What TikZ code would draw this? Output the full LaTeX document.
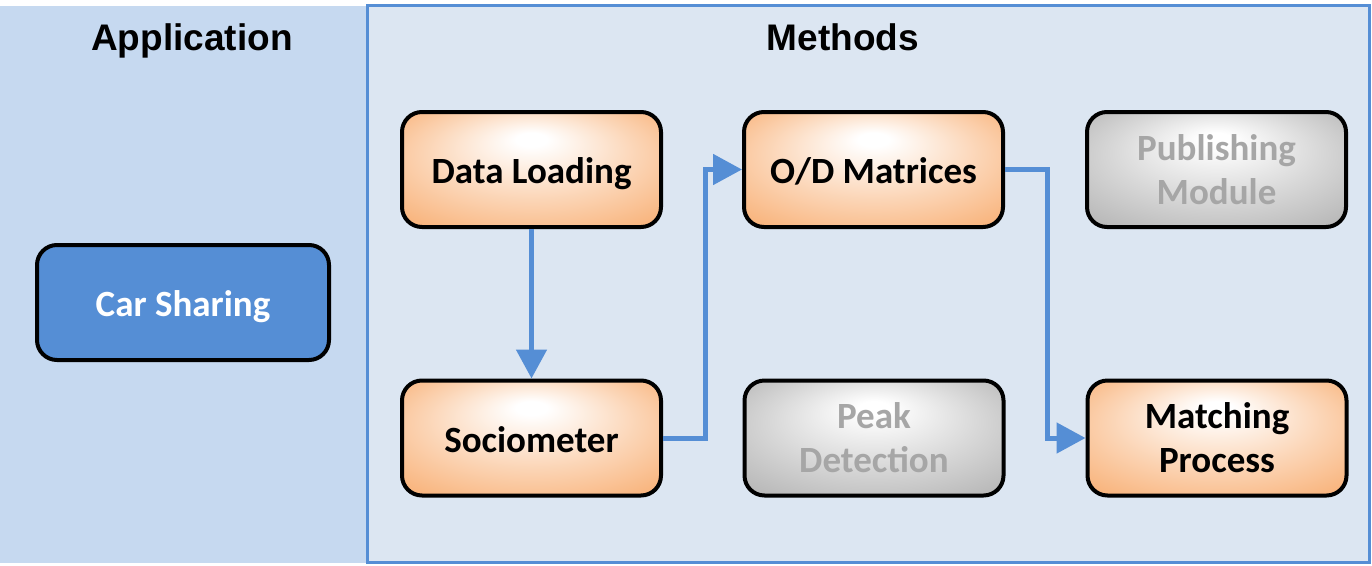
\documentclass[tikz,border=0pt]{standalone}
\usepackage{fontspec}
\setmainfont{Carlito}
\newfontfamily\titlefont{Liberation Sans}
\usetikzlibrary{arrows.meta}
\definecolor{leftbg}{HTML}{C6D9F0}
\definecolor{rightbg}{HTML}{DCE6F2}
\definecolor{blueline}{HTML}{558ED5}
\definecolor{orng}{HTML}{F7A35F}
\definecolor{gry}{HTML}{A8A8A8}
\definecolor{grytext}{HTML}{A6A6A6}
\pgfdeclareradialshading{orangeglow}{\pgfpoint{0bp}{14bp}}{color(0bp)=(white); color(3bp)=(white); color(20bp)=(orng!45!white); color(30bp)=(orng!70!white); color(42bp)=(orng)}
\pgfdeclareradialshading{grayglow}{\pgfpoint{0bp}{14bp}}{color(0bp)=(white); color(3bp)=(white); color(20bp)=(gry!45!white); color(30bp)=(gry!70!white); color(42bp)=(gry)}
\tikzset{
  box/.style={draw=black, line width=4pt, rounded corners=20pt, minimum width=259pt, minimum height=115pt, align=center, inner sep=0pt, font=\bfseries\fontsize{37}{44}\selectfont},
  oneline/.style={text height=30pt, text depth=2pt},
  activebox/.style={box, shading=orangeglow, text=black},
  idlebox/.style={box, shading=grayglow, text=grytext},
  appbox/.style={box, fill=blueline, text=white, minimum width=292pt},
  flow/.style={draw=blueline, line width=5pt, -{Triangle[length=29pt,width=30pt]}},
  paneltitle/.style={font=\titlefont\bfseries\fontsize{37}{44}\selectfont, anchor=base, text=black},
}
\begin{document}
\begin{tikzpicture}[x=1pt, y=-1pt]
\useasboundingbox (0,0) rectangle (1372,565);
\fill[white] (0,0) rectangle (1372,565);
% panels
\fill[leftbg] (0,6) rectangle (367,563);
\draw[blueline, line width=3pt, fill=rightbg] (367,5.5) rectangle (1369.5,562.5);
% titles
\node[paneltitle] (tapp) at (192,50) {Application};
\node[paneltitle] (tmeth) at (843,50) {Methods};
% boxes
\node[appbox, oneline] (car) at (183,302.5) {Car Sharing};
\node[activebox, oneline] (dl) at (531.5,169.5) {Data Loading};
\node[activebox, oneline] (od) at (873.5,169.5) {O/D Matrices};
\node[idlebox] (pm) at (1216.5,169.5) {Publishing\\Module};
\node[activebox, oneline] (so) at (531.5,438) {Sociometer};
\node[idlebox] (pd) at (874,438) {Peak\\Detection};
\node[activebox] (mp) at (1217,438) {Matching\\Process};
% connectors
\draw[flow] (dl.south) -- (so.north);
\draw[flow] (so.east) -- ++(42,0) |- (od.west);
\draw[flow] (od.east) -- ++(42,0) |- (mp.west);
\end{tikzpicture}
\end{document}
